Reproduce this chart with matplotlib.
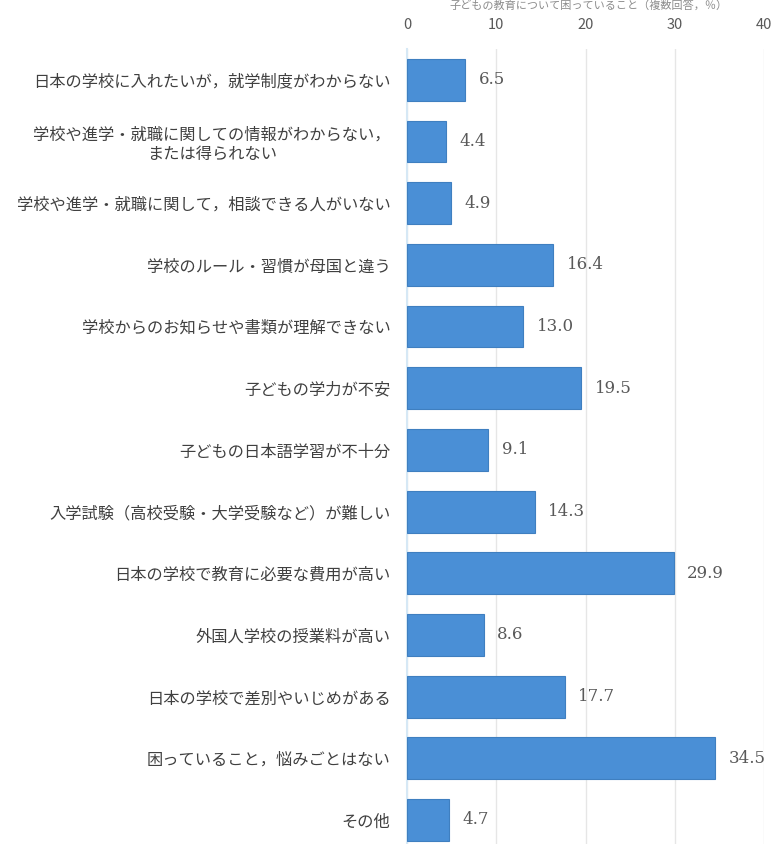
import matplotlib
matplotlib.use("Agg")
import matplotlib.pyplot as plt

plt.rcParams['font.family'] = ['Noto Sans CJK JP', 'DejaVu Sans']

# categories top to bottom
labels = [
    "日本の学校に入れたいが，就学制度がわからない",
    "学校や進学・就職に関しての情報がわからない，\nまたは得られない",
    "学校や進学・就職に関して，相談できる人がいない",
    "学校のルール・習慣が母国と違う",
    "学校からのお知らせや書類が理解できない",
    "子どもの学力が不安",
    "子どもの日本語学習が不十分",
    "入学試験（高校受験・大学受験など）が難しい",
    "日本の学校で教育に必要な費用が高い",
    "外国人学校の授業料が高い",
    "日本の学校で差別やいじめがある",
    "困っていること，悩みごとはない",
    "その他",
]
values = [6.5, 4.4, 4.9, 16.4, 13.0, 19.5, 9.1, 14.3, 29.9, 8.6, 17.7, 34.5, 4.7]
xticks = [0, 10, 20, 30, 40]

fig = plt.figure(figsize=(7.74, 8.44), dpi=100)
ax = fig.add_axes([0.526, 0.0, 0.461, 0.942])

ypos = list(range(len(values)))
ax.barh(ypos, values, height=0.68, color="#4a8fd6", edgecolor="#3f7fc0", linewidth=0.8, zorder=3)

for y, v in zip(ypos, values):
    ax.text(v + 1.5, y, f"{v:.1f}", va="center", ha="left", fontsize=12,
            color="#595959", family=["DejaVu Serif"])

ax.set_xlim(0, 40)
ax.set_ylim(12.39, -0.5)
ax.set_xticks(xticks)
ax.xaxis.tick_top()
ax.tick_params(axis="x", length=0, pad=12, labelsize=10.5, labelcolor="#595959")
ax.set_yticks(ypos)
ax.set_yticklabels(labels, fontsize=11.7, color="#404040")
ax.tick_params(axis="y", length=0, pad=12)
for lbl in ax.get_yticklabels():
    lbl.set_horizontalalignment("right")
    lbl.set_multialignment("center")

ax.grid(axis="x", color="#e6e6e6", linewidth=1, zorder=0)
for s in ["top", "right", "bottom"]:
    ax.spines[s].set_visible(False)
ax.spines["left"].set_color("#d6e8f5")
ax.spines["left"].set_linewidth(1.5)

fig.text(0.76, 0.999, "子どもの教育について困っていること（複数回答，％）",
         ha="center", va="top", fontsize=8, color="#8c8c8c")

fig.savefig("out.png", dpi=100)
